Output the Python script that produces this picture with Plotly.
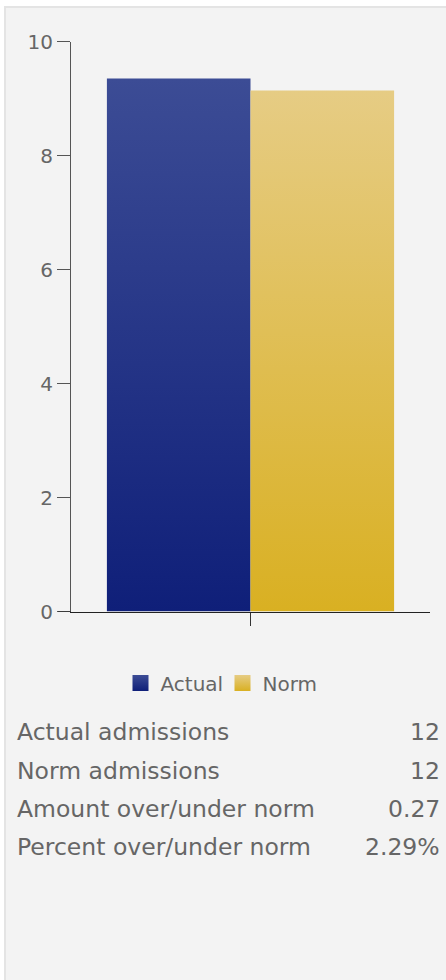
import plotly.graph_objects as go

# ---- data ----
series_names = ["Actual", "Norm"]
series_values = [9.35, 9.14]
top_colors = ["#3c4c95", "#e6cc84"]
bottom_colors = ["#0f1f79", "#d9b022"]
y_tick_values = [0, 2, 4, 6, 8, 10]
table_labels = ["Actual admissions", "Norm admissions",
                "Amount over/under norm", "Percent over/under norm"]
table_values = ["12", "12", "0.27", "2.29%"]

# ---- style ----
W, H = 446, 980
FONT = "DejaVu Sans"
TEXT = "#666666"
BAR_W = 0.4          # width of each bar inside the single category slot
PANEL_BG = "#f3f3f3"


def px_x(p):
    return p / W


def px_y(p):
    return 1 - p / H


fig = go.Figure()
n = len(series_values)
for i, (name, v, ct, cb) in enumerate(zip(series_names, series_values, top_colors, bottom_colors)):
    x0 = -BAR_W * n / 2 + i * BAR_W
    x1 = x0 + BAR_W
    fig.add_trace(go.Scatter(
        x=[x0, x1, x1, x0, x0], y=[0, 0, v, v, 0],
        mode="lines", fill="toself", line=dict(width=0),
        fillgradient=dict(type="vertical", colorscale=[[0, cb], [1, ct]], start=0, stop=v),
        name=name, legendgroup=name, showlegend=False,
        hoveron="fills", hoverinfo="name",
    ))

for name, ct, cb in zip(series_names, top_colors, bottom_colors):
    fig.add_trace(go.Scatter(
        x=[None], y=[None], mode="markers", name=name, legendgroup=name,
        marker=dict(symbol="square", size=16, color=ct,
                    gradient=dict(type="vertical", color=cb), line=dict(width=0)),
    ))

annotations = []
row_centers = [731.5, 770.5, 808.5, 847]
for lab, val, yc in zip(table_labels, table_values, row_centers):
    annotations.append(dict(text=lab, x=px_x(14.5), y=px_y(yc), xref="paper", yref="paper",
                            xanchor="left", yanchor="middle", showarrow=False,
                            font=dict(family=FONT, size=23.5, color=TEXT)))
    annotations.append(dict(text=val, x=px_x(442), y=px_y(yc), xref="paper", yref="paper",
                            xanchor="right", yanchor="middle", showarrow=False,
                            font=dict(family=FONT, size=23.5, color=TEXT)))

fig.update_layout(
    width=W, height=H,
    margin=dict(l=0, r=0, t=0, b=0, pad=0, autoexpand=False),
    paper_bgcolor="white",
    plot_bgcolor="rgba(0,0,0,0)",
    font=dict(family=FONT, color=TEXT),
    xaxis=dict(domain=[px_x(71), px_x(430)], range=[-0.5, 0.5],
               showline=True, linecolor="#222222", linewidth=1,
               tickvals=[0], ticktext=[""], ticks="outside", ticklen=13,
               tickcolor="#333333", showgrid=False, zeroline=False, fixedrange=True,
               automargin=False),
    yaxis=dict(domain=[px_y(611.5), px_y(41.5)], range=[0, 10],
               showline=True, linecolor="#555555", linewidth=1,
               tickvals=y_tick_values, ticks="outside", ticklen=13, tickcolor="#555555",
               tickfont=dict(family=FONT, size=20, color=TEXT),
               showgrid=False, zeroline=False, fixedrange=True, automargin=False),
    showlegend=True,
    legend=dict(orientation="h", x=px_x(120.5), xanchor="left",
                y=px_y(683), yanchor="middle",
                entrywidth=57, entrywidthmode="pixels",
                font=dict(family=FONT, size=20, color=TEXT),
                bgcolor="rgba(0,0,0,0)"),
    shapes=[dict(type="rect", xref="paper", yref="paper",
                 x0=px_x(5), x1=1.05, y0=-0.05, y1=px_y(7),
                 line=dict(color="#e4e4e4", width=2), fillcolor=PANEL_BG, layer="below"),
            dict(type="line", xref="paper", yref="y", x0=px_x(58), x1=px_x(71), y0=0, y1=0,
                 line=dict(color="#222222", width=1))],
    annotations=annotations,
)

fig.write_html("out.html", config={"displayModeBar": False},
               post_script="document.body.style.margin='0';document.body.style.overflow='hidden';")
